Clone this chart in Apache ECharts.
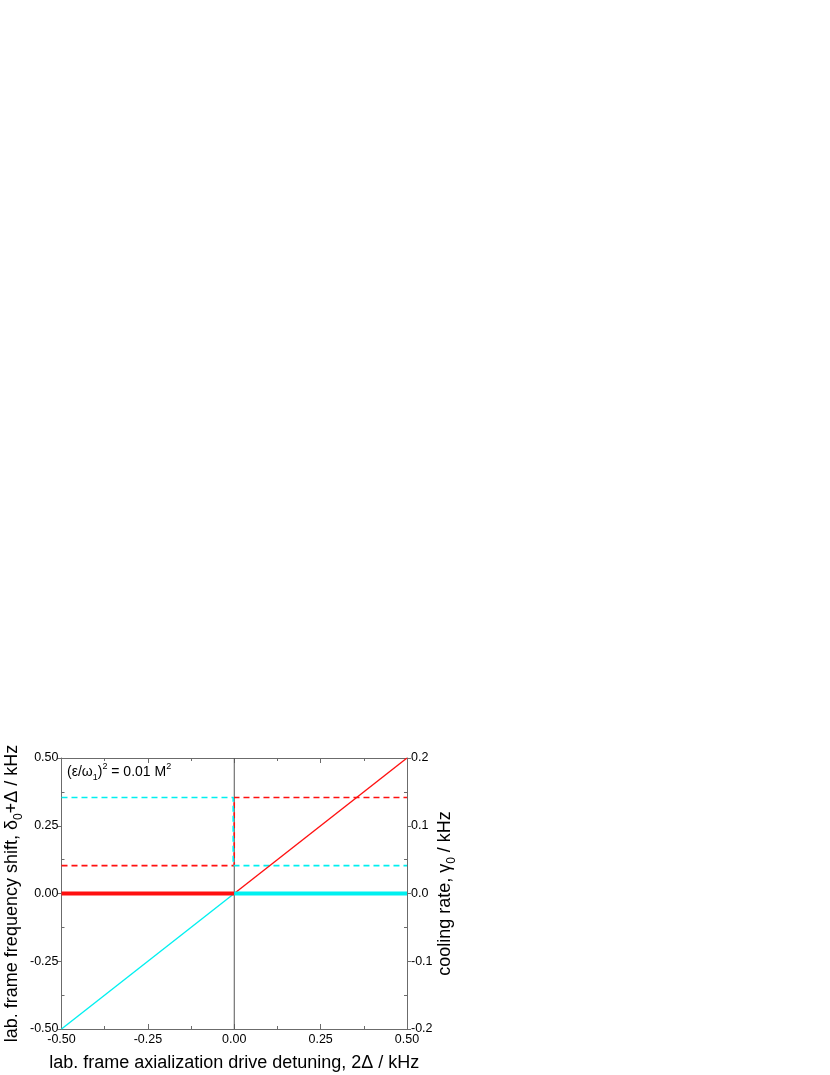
<!DOCTYPE html>
<html lang="en">
<head>
    <meta charset="UTF-8">
    <title>Frequency shift and cooling rate vs detuning</title>
    <script src="https://cdn.jsdelivr.net/npm/echarts@6/dist/echarts.min.js"></script>
    <style>
        html, body { margin: 0; padding: 0; background: #fff; }
        #chart { width: 830px; height: 1075px; }
    </style>
</head>
<body>
    <div id="chart"></div>
    <script>
        // tick positions
        const xMajor = [-0.5, -0.25, 0, 0.25, 0.5];
        const xMinor = [-0.375, -0.125, 0.125, 0.375];
        const yMajor = [-0.5, -0.25, 0, 0.25, 0.5];
        const yMinor = [-0.375, -0.125, 0.125, 0.375];
        const rMajor = [-0.2, -0.1, 0, 0.1, 0.2];
        const rMinor = [-0.15, -0.05, 0.05, 0.15];

        // series, [detuning, shift] in kHz
        const redRamp = [[0, 0], [0.5, 0.5]];
        const cyanRamp = [[-0.5, -0.5], [0, 0]];
        const redFlat = [[-0.5, 0], [0, 0]];
        const cyanFlat = [[0, 0], [0.5, 0]];
        const redDash = [[-0.5, 0.103], [0, 0.103], [0, 0.354], [0.5, 0.354]];
        const cyanDash = [[-0.5, 0.354], [-0.003, 0.354], [-0.003, 0.103], [0.5, 0.103]];
        const zeroLine = [[0, -0.5], [0, 0.5]];

        const AXIS = '#6b6b6b';
        const FONT = 'Liberation Sans, Arial, sans-serif';
        const RED = '#ff1010';
        const CYAN = '#00f0f0';

        const chart = echarts.init(document.getElementById('chart'));

        function tickAxis(extra) {
            return Object.assign({
                type: 'value',
                axisLine: { show: true, onZero: false, lineStyle: { color: AXIS, width: 1 } },
                splitLine: { show: false },
                axisLabel: { show: false },
                axisTick: { show: false }
            }, extra);
        }
        const hiddenLine = { show: false, onZero: false };

        chart.setOption({
            animation: false,
            grid: { left: 61.5, right: 423, top: 758, bottom: 46 },
            xAxis: [
                tickAxis({
                    position: 'bottom', min: -0.5, max: 0.5, interval: 0.25,
                    axisTick: { show: true, inside: true, length: 5, lineStyle: { color: AXIS } },
                    axisLabel: {
                        show: true, color: '#000', fontSize: 12.5, fontFamily: FONT, margin: 4,
                        formatter: v => v.toFixed(2)
                    },
                    name: 'lab. frame axialization drive detuning, 2Δ / kHz',
                    nameLocation: 'middle', nameGap: 25,
                    nameTextStyle: { color: '#000', fontSize: 18, fontFamily: FONT }
                }),
                tickAxis({
                    position: 'top', min: -0.5, max: 0.5, interval: 0.25,
                    axisTick: { show: true, inside: true, length: 5, lineStyle: { color: AXIS } }
                }),
                tickAxis({
                    position: 'bottom', min: -0.5, max: 0.5, axisLine: hiddenLine,
                    axisTick: { show: true, inside: true, length: 3, customValues: xMinor, lineStyle: { color: AXIS } }
                }),
                tickAxis({
                    position: 'top', min: -0.5, max: 0.5, axisLine: hiddenLine,
                    axisTick: { show: true, inside: true, length: 3, customValues: xMinor, lineStyle: { color: AXIS } }
                })
            ],
            yAxis: [
                tickAxis({
                    position: 'left', min: -0.5, max: 0.5, interval: 0.25,
                    axisTick: { show: true, inside: false, length: 4, lineStyle: { color: AXIS } },
                    axisLabel: {
                        show: true, color: '#000', fontSize: 12.5, fontFamily: FONT, margin: 3,
                        formatter: v => v.toFixed(2)
                    },
                    name: 'lab. frame frequency shift, {n|δ}{s|0}{n|+Δ / kHz}',
                    nameLocation: 'middle', nameGap: 37, nameRotate: 90,
                    nameTextStyle: {
                        color: '#000', fontSize: 18, fontFamily: FONT,
                        rich: {
                            n: { fontSize: 18, fontFamily: FONT, color: '#000', lineHeight: 24 },
                            s: { fontSize: 12, fontFamily: FONT, color: '#000', verticalAlign: 'bottom', lineHeight: 24, padding: [8, 0, 0, 0] }
                        }
                    }
                }),
                tickAxis({
                    position: 'right', min: -0.2, max: 0.2, interval: 0.1,
                    axisTick: { show: true, inside: false, length: 4, lineStyle: { color: AXIS } },
                    axisLabel: {
                        show: true, color: '#000', fontSize: 12.5, fontFamily: FONT, margin: 4,
                        formatter: v => v.toFixed(1)
                    },
                    name: 'cooling rate, {n|γ}{s|0}{n| / kHz}',
                    nameLocation: 'middle', nameGap: 23, nameRotate: 90,
                    nameTextStyle: {
                        color: '#000', fontSize: 18, fontFamily: FONT,
                        rich: {
                            n: { fontSize: 18, fontFamily: FONT, color: '#000', lineHeight: 24 },
                            s: { fontSize: 12, fontFamily: FONT, color: '#000', verticalAlign: 'bottom', lineHeight: 24, padding: [8, 0, 0, 0] }
                        }
                    }
                }),
                tickAxis({
                    position: 'left', min: -0.5, max: 0.5, axisLine: hiddenLine,
                    axisTick: { show: true, inside: true, length: 3, customValues: yMinor, lineStyle: { color: AXIS } }
                }),
                tickAxis({
                    position: 'right', min: -0.2, max: 0.2, axisLine: hiddenLine,
                    axisTick: { show: true, inside: true, length: 3, customValues: rMinor, lineStyle: { color: AXIS } }
                })
            ],
            graphic: [{
                type: 'text', left: 67, top: 762,
                style: {
                    text: '{n|(ε/ω}{s|1}{n|)}{p|2}{n| = 0.01 M}{p|2}',
                    font: '14px ' + FONT,
                    rich: {
                        n: { fontSize: 14, fontFamily: FONT, fill: '#000', lineHeight: 20 },
                        s: { fontSize: 9, fontFamily: FONT, fill: '#000', verticalAlign: 'bottom', lineHeight: 20, padding: [6, 0, 0, 0] },
                        p: { fontSize: 9, fontFamily: FONT, fill: '#000', verticalAlign: 'top', lineHeight: 20, padding: [0, 0, 6, 0] }
                    }
                }
            }],
            series: [
                {
                    type: 'line', data: zeroLine, symbol: 'none', silent: true,
                    lineStyle: { color: '#555', width: 1 }
                },
                {
                    type: 'line', data: redDash, symbol: 'none',
                    lineStyle: { color: RED, width: 1.6, type: [6, 4] }
                },
                {
                    type: 'line', data: cyanDash, symbol: 'none',
                    lineStyle: { color: CYAN, width: 1.6, type: [6, 4] }
                },
                {
                    type: 'line', data: cyanRamp, symbol: 'none',
                    lineStyle: { color: CYAN, width: 1.4 }
                },
                {
                    type: 'line', data: redRamp, symbol: 'none',
                    lineStyle: { color: RED, width: 1.4 }
                },
                {
                    type: 'line', data: redFlat, symbol: 'none',
                    lineStyle: { color: RED, width: 4 }
                },
                {
                    type: 'line', data: cyanFlat, symbol: 'none',
                    lineStyle: { color: CYAN, width: 4 }
                }
            ]
        });
    </script>
</body>
</html>
